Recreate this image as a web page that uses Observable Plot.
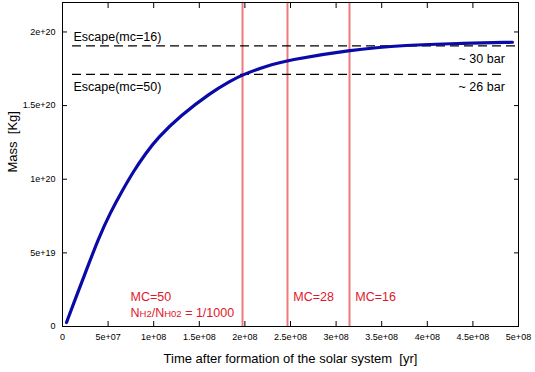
<!DOCTYPE html>
<html>
<head>
<meta charset="utf-8">
<script src="https://cdn.jsdelivr.net/npm/d3@7"></script>
<script src="https://cdn.jsdelivr.net/npm/@observablehq/plot@0.6"></script>
<style>
  html, body { margin: 0; padding: 0; background: #fff; }
  svg { font-family: "Liberation Sans", Arial, sans-serif; }
</style>
</head>
<body>
<div id="chart"></div>
<script>
// Mass curve (time in yr, mass in kg)
const time = [4.39e6, 1.425e7, 2.522e7, 3.947e7, 5.263e7, 6.579e7, 7.785e7, 9.101e7, 1.0417e8, 1.2939e8, 1.6228e8, 1.8421e8, 1.9737e8, 2.2259e8, 2.4671e8, 3.136e8, 3.783e8, 4.331e8, 4.934e8];
const mass = [0.027e20, 0.190e20, 0.367e20, 0.599e20, 0.776e20, 0.925e20, 1.054e20, 1.174e20, 1.280e20, 1.432e20, 1.587e20, 1.668e20, 1.709e20, 1.767e20, 1.808e20, 1.878e20, 1.912e20, 1.922e20, 1.930e20];

// Escape levels (dashed lines)
const escapeLevels = [1.905e20, 1.712e20];
const escapeStart = [1.1e7, 1.1e7];
const escapeEnd = [5e8, 4.85e8];
const escapeLabels = ["Escape(mc=16)", "Escape(mc=50)"];
const barLabels = ["~ 30 bar", "~ 26 bar"];

// MC vertical lines
const mcTimes = [1.974e8, 2.467e8, 3.147e8];
const mcLabels = ["MC=50", "MC=28", "MC=16"];
const mcLabelX = [7.46e7, 2.53e8, 3.21e8];

// Ticks
const xTicks = [0, 5e7, 1e8, 1.5e8, 2e8, 2.5e8, 3e8, 3.5e8, 4e8, 4.5e8, 5e8];
const xTickLabels = ["0", "5e+07", "1e+08", "1.5e+08", "2e+08", "2.5e+08", "3e+08", "3.5e+08", "4e+08", "4.5e+08", "5e+08"];
const yTicks = [0, 5e19, 1e20, 1.5e20, 2e20];
const yTickLabels = ["0", "5e+19", "1e+20", "1.5e+20", "2e+20"];

const xLabel = "Time after formation of the solar system  [yr]";
const yLabel = "Mass  [Kg]";

const curve = time.map((t, i) => ({t, m: mass[i]}));
const escapes = escapeLevels.map((y, i) => ({y, x1: escapeStart[i], x2: escapeEnd[i], label: escapeLabels[i], bar: barLabels[i]}));
const mcs = mcTimes.map((t, i) => ({t, label: mcLabels[i], lx: mcLabelX[i]}));
const xfmt = d => xTickLabels[xTicks.indexOf(d)];
const yfmt = d => yTickLabels[yTicks.indexOf(d)];

const red = "#e0182a";
const fs = 12.5;

const chart = Plot.plot({
  width: 535,
  height: 372,
  marginLeft: 62,
  marginRight: 17,
  marginTop: 2,
  marginBottom: 46,
  style: {fontFamily: "Liberation Sans, Arial, sans-serif", background: "#fff", overflow: "visible"},
  x: {domain: [0, 5e8]},
  y: {domain: [0, 2.2e20]},
  marks: [
    Plot.ruleX(mcs, {x: "t", stroke: "#ec7a7d", strokeWidth: 2}),
    Plot.ruleY(escapes, {y: "y", x1: "x1", x2: "x2", stroke: "#000", strokeWidth: 1.2, strokeDasharray: "9,5"}),
    Plot.line(curve, {x: "t", y: "m", curve: "basis", stroke: "#0a0aa8", strokeWidth: 3.2}),
    Plot.frame({stroke: "#000", strokeWidth: 1}),
    Plot.axisX({anchor: "bottom", ticks: xTicks, tickFormat: xfmt, tickSize: -5, tickPadding: 12, fontSize: 9, label: null}),
    Plot.axisX({anchor: "top", ticks: xTicks, tickFormat: () => "", tickSize: -5, label: null}),
    Plot.axisY({anchor: "left", ticks: yTicks, tickFormat: yfmt, tickSize: -5, tickPadding: 12, fontSize: 9, label: null}),
    Plot.axisY({anchor: "right", ticks: yTicks, tickFormat: () => "", tickSize: -5, label: null}),
    Plot.text([xLabel], {frameAnchor: "bottom", text: d => d, dy: 36, fontSize: 13, fill: "#000"}),
    Plot.text([yLabel], {frameAnchor: "left", text: d => d, rotate: -90, dx: -50, dy: 8, fontSize: 13, fill: "#000"}),
    Plot.text([escapes[0]], {x: 1.2e7, y: "y", text: "label", textAnchor: "start", dy: -9, fontSize: fs, fill: "#000"}),
    Plot.text([escapes[1]], {x: 1.2e7, y: "y", text: "label", textAnchor: "start", dy: 13, fontSize: fs, fill: "#000"}),
    Plot.text(escapes, {x: 4.85e8, y: "y", text: "bar", textAnchor: "end", dy: 13, fontSize: fs, fill: "#000"}),
    Plot.text(mcs, {x: "lx", y: 0, text: "label", textAnchor: "start", dy: -30, fontSize: fs, fill: red}),
    Plot.text(["NH2/NH02 = 1/1000"], {x: mcLabelX[0], y: 0, text: d => d, textAnchor: "start", dy: -14, fontSize: fs, fill: red, className: "ratio"})
  ]
});

document.getElementById("chart").appendChild(chart);
// Render subscripts in the ratio label
d3.select(chart).selectAll("g.ratio text").each(function() {
  const el = d3.select(this);
  el.text(null);
  el.append("tspan").text("N");
  el.append("tspan").attr("font-size", 9.5).text("H2");
  el.append("tspan").text("/N");
  el.append("tspan").attr("font-size", 9.5).text("H02");
  el.append("tspan").text(" = 1/1000");
});
</script>
</body>
</html>
